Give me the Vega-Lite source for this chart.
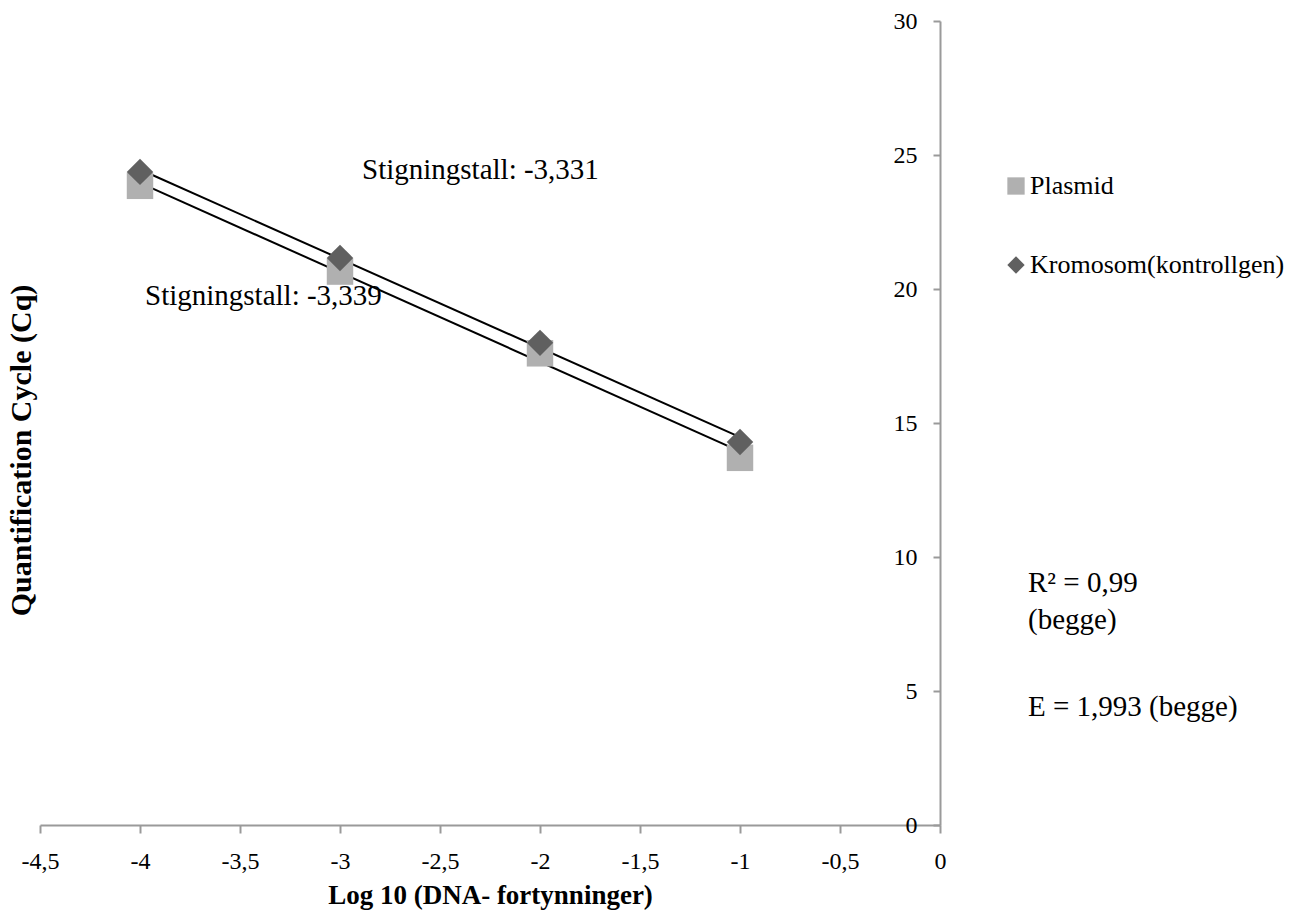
{
  "$schema": "https://vega.github.io/schema/vega-lite/v6.json",
  "width": 900,
  "height": 804,
  "autosize": {"type": "none"},
  "padding": {"left": 40, "top": 21, "right": 364, "bottom": 85},
  "background": "white",
  "config": {
    "view": {"stroke": null},
    "font": "Liberation Serif",
    "axis": {"grid": false, "labelFont": "Liberation Serif", "titleFont": "Liberation Serif", "labelColor": "black", "titleColor": "black"}
  },
  "datasets": {
    "points": [
      {"series": "Plasmid", "x": -4, "y": 23.85},
      {"series": "Plasmid", "x": -3, "y": 20.65},
      {"series": "Plasmid", "x": -2, "y": 17.6},
      {"series": "Plasmid", "x": -1, "y": 13.7},
      {"series": "Kromosom(kontrollgen)", "x": -4, "y": 24.37},
      {"series": "Kromosom(kontrollgen)", "x": -3, "y": 21.16},
      {"series": "Kromosom(kontrollgen)", "x": -2, "y": 17.99},
      {"series": "Kromosom(kontrollgen)", "x": -1, "y": 14.29}
    ],
    "trend": [
      {"series": "Plasmid", "x": -4, "y": 23.96},
      {"series": "Plasmid", "x": -1, "y": 13.94},
      {"series": "Kromosom(kontrollgen)", "x": -4, "y": 24.46},
      {"series": "Kromosom(kontrollgen)", "x": -1, "y": 14.47}
    ],
    "notes": [
      {"x": -2.89, "y": 24.44, "text": "Stigningstall: -3,331"},
      {"x": -3.975, "y": 19.74, "text": "Stigningstall: -3,339"},
      {"x": 0.44, "y": 9.03, "text": "R² = 0,99"},
      {"x": 0.44, "y": 7.65, "text": "(begge)"},
      {"x": 0.44, "y": 4.4, "text": "E = 1,993 (begge)"}
    ]
  },
  "resolve": {"axis": {"y": "independent"}},
  "encoding": {
    "x": {"field": "x", "type": "quantitative", "scale": {"domain": [-4.5, 0], "nice": false, "zero": false},
      "axis": {"orient": "bottom", "title": "Log 10 (DNA- fortynninger)", "values": [-4.5, -4, -3.5, -3, -2.5, -2, -1.5, -1, -0.5, 0],
        "labelExpr": "replace(toString(datum.value), '.', ',')", "labelFontSize": 24, "labelPadding": 16, "labelFlush": false,
        "titleFontSize": 27, "titleFontWeight": "bold", "titlePadding": 9,
        "domainColor": "#9a9a9a", "domainWidth": 2, "tickColor": "#9a9a9a", "tickWidth": 2, "tickSize": 8}}
  },
  "layer": [
    {
      "data": {"name": "trend"},
      "mark": {"type": "line", "color": "black", "strokeWidth": 2},
      "encoding": {
        "y": {"field": "y", "type": "quantitative", "scale": {"domain": [0, 30], "nice": false},
          "axis": {"orient": "left", "title": "Quantification Cycle (Cq)", "titleFontSize": 30, "titleFontWeight": "bold",
            "labels": false, "ticks": false, "domain": false, "titlePadding": 4, "titleY": 429}},
        "detail": {"field": "series"}
      }
    },
    {
      "data": {"name": "points"},
      "mark": {"type": "point", "filled": true, "opacity": 1, "size": 700},
      "encoding": {
        "y": {"field": "y", "type": "quantitative",
          "axis": {"orient": "left", "offset": -900, "title": null, "values": [0, 5, 10, 15, 20, 25, 30],
            "labelFontSize": 24, "labelPadding": 16, "labelFlush": false, "domainColor": "#9a9a9a", "domainWidth": 2,
            "tickColor": "#9a9a9a", "tickWidth": 2, "tickSize": 7}},
        "color": {"field": "series", "type": "nominal",
          "scale": {"domain": ["Plasmid", "Kromosom(kontrollgen)"], "range": ["#b0b0b0", "#606060"]},
          "legend": {"title": null, "orient": "none", "legendX": 963, "legendY": 152, "padding": 0,
            "labelFontSize": 26, "labelFont": "Liberation Serif", "labelColor": "black", "labelLimit": 400, "rowPadding": 53,
            "symbolSize": 300, "symbolStrokeWidth": 0, "labelOffset": 1,
            "encode": {"symbols": {"update": {"size": {"value": 300}}}}}},
        "shape": {"field": "series", "type": "nominal",
          "scale": {"domain": ["Plasmid", "Kromosom(kontrollgen)"], "range": ["square", "diamond"]}}
      }
    },
    {
      "data": {"name": "notes"},
      "mark": {"type": "text", "align": "left", "baseline": "middle", "fontSize": 29, "font": "Liberation Serif", "color": "black"},
      "encoding": {
        "y": {"field": "y", "type": "quantitative", "axis": null},
        "text": {"field": "text"}
      }
    }
  ]
}
